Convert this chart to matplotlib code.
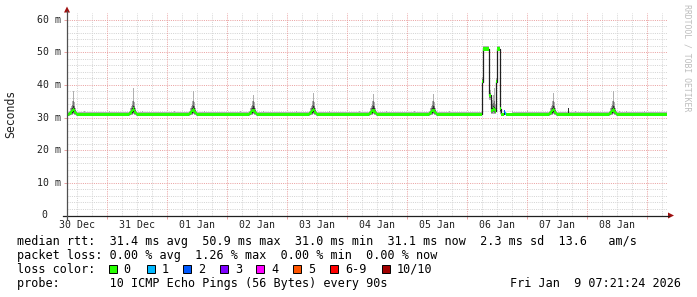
import numpy as np
import matplotlib
matplotlib.use("Agg")
import matplotlib.pyplot as plt
from matplotlib.patches import Rectangle, Polygon
from matplotlib.lines import Line2D
from matplotlib.transforms import blended_transform_factory as btf

W, H, DPI = 697, 297, 100
MONO = "DejaVu Sans Mono"

# ---------------- data ----------------
# time in days since 30 Dec 00:00
t_start, t_end = 0.33, 10.33
day_labels = ["30 Dec", "31 Dec", "01 Jan", "02 Jan", "03 Jan",
              "04 Jan", "05 Jan", "06 Jan", "07 Jan", "08 Jan"]
day_label_pos = [0.5, 1.5, 2.5, 3.5, 4.5, 5.5, 6.5, 7.5, 8.5, 9.5]
y_ticks = [0, 10, 20, 30, 40, 50, 60]
y_tick_labels = ["0", "10 m", "20 m", "30 m", "40 m", "50 m", "60 m"]

# baseline (ms): median, loss, outer lo/hi, mid lo/hi, inner lo/hi
base_row = [31.0, 0, 30.5, 31.6, 30.8, 31.2, 30.9, 31.1]

# daily ping spikes
spike_center = [0.435, 1.43, 2.43, 3.43, 4.43, 5.43, 6.43, 8.43, 9.43]
spike_top = [38.0, 38.9, 38.0, 37.0, 37.6, 37.3, 37.3, 37.6, 38.0]
spike_med = [32.4, 32.6, 32.3, 32.2, 32.4, 32.0, 32.2, 32.4, 32.3]
spike_dt = [-0.067, -0.050, -0.033, -0.017, 0.000, 0.017, 0.033, 0.050]
spike_med_prof = [31.2, 31.4, 31.7, 32.1, None, 32.0, 31.5, 31.2]
spike_ohi = [32.0, 32.8, 33.6, 35.0, None, 34.6, 33.0, 32.0]
spike_olo = [30.6, 30.7, 30.8, 30.9, 31.0, 30.9, 30.8, 30.6]
spike_mhi = [31.6, 32.0, 32.8, 33.8, 35.0, 33.6, 32.4, 31.6]
spike_mlo = [30.8, 30.9, 31.0, 31.1, 31.3, 31.1, 31.0, 30.8]
spike_ihi = [31.3, 31.6, 32.2, 32.9, 33.6, 32.8, 31.9, 31.3]
spike_ilo = [30.9, 31.1, 31.3, 31.5, 31.6, 31.4, 31.1, 30.9]

# 06 Jan latency event
ev_t    = [7.247, 7.263, 7.363, 7.397, 7.430, 7.447, 7.463, 7.480, 7.497, 7.547, 7.563, 7.613, 7.630, 7.647]
ev_med  = [41.0, 51.0, 36.8, 32.2, 32.6, 32.4, 32.0, 41.0, 51.0, 32.7, 31.0, 31.8, 31.3, 31.0]
ev_loss = [0, 0, 0, 0, 0, 0, 0, 0, 0, 0, 0, 2, 1, 0]
ev_olo  = [39.5, 50.5, 35.5, 31.0, 31.2, 31.2, 31.0, 40.0, 50.5, 31.2, 30.6, 31.0, 30.8, 30.6]
ev_ohi  = [42.5, 51.8, 38.5, 35.5, 37.0, 38.9, 34.0, 42.0, 51.8, 34.0, 31.5, 32.4, 31.8, 31.5]
ev_mlo  = [40.3, 50.7, 36.0, 31.4, 31.6, 31.5, 31.3, 40.5, 50.7, 31.6, 30.8, 31.2, 31.0, 30.8]
ev_mhi  = [41.8, 51.4, 37.5, 34.0, 34.5, 35.0, 33.0, 41.5, 51.4, 33.5, 31.2, 32.2, 31.5, 31.2]
ev_ilo  = [40.7, 50.9, 36.5, 31.8, 32.0, 31.9, 31.6, 40.8, 50.9, 32.0, 30.9, 31.4, 31.1, 30.9]
ev_ihi  = [41.3, 51.1, 37.1, 33.0, 33.5, 33.2, 32.6, 41.2, 51.1, 33.2, 31.1, 32.0, 31.4, 31.1]

# isolated dark blip on 07 Jan
blip_t, blip_ilo, blip_ihi = [8.68], [31.2], [33.0]

# light smoke fuzz above the baseline
fuzz_t = [0.62, 0.72, 1.03, 1.58, 1.75, 2.12, 2.62, 2.90, 3.22, 3.60, 3.88, 4.15,
          4.70, 4.98, 5.20, 5.65, 5.92, 6.12, 6.70, 6.95, 7.75, 8.00, 8.25,
          8.80, 9.10, 9.53, 9.65, 9.78, 9.95, 10.12]
fuzz_hi = [31.9, 31.8, 32.0, 31.9, 31.8, 31.9, 32.0, 31.8, 31.9, 32.0, 31.8, 31.9,
           31.9, 31.8, 32.0, 31.9, 31.8, 31.9, 32.0, 31.8, 31.9, 32.0, 31.8,
           31.9, 31.8, 31.9, 32.0, 31.8, 31.9, 31.8]

loss_colors = ["#26ff00", "#00b8ff", "#0059ff", "#7e00ff", "#ff00ff",
               "#ff5500", "#ff0000", "#a10000"]
loss_names = ["0", "1", "2", "3", "4", "5", "6-9", "10/10"]

legend_rtt = "median rtt:  31.4 ms avg  50.9 ms max  31.0 ms min  31.1 ms now  2.3 ms sd  13.6   am/s"
legend_loss = "packet loss: 0.00 % avg  1.26 % max  0.00 % min  0.00 % now"
legend_color = "loss color:"
legend_probe = "probe:       10 ICMP Echo Pings (56 Bytes) every 90s"
legend_date = "Fri Jan  9 07:21:24 2026"

# ---------------- build segments ----------------
PX = 1.0 / 60.0
segs = {round(t_start, 4): list(base_row)}
for t, hi in zip(fuzz_t, fuzz_hi):
    r = list(base_row); r[3] = hi
    segs[round(t, 4)] = r
    segs[round(t + PX, 4)] = list(base_row)
for c, top, pk in zip(spike_center, spike_top, spike_med):
    for k, dt in enumerate(spike_dt):
        med = pk if spike_med_prof[k] is None else spike_med_prof[k]
        ohi = top if spike_ohi[k] is None else spike_ohi[k]
        segs[round(c + dt, 4)] = [med, 0, spike_olo[k], ohi, spike_mlo[k],
                                  spike_mhi[k], spike_ilo[k], spike_ihi[k]]
    segs[round(c + spike_dt[-1] + PX, 4)] = list(base_row)
for i, t in enumerate(ev_t):
    segs[round(t, 4)] = [ev_med[i], ev_loss[i], ev_olo[i], ev_ohi[i],
                         ev_mlo[i], ev_mhi[i], ev_ilo[i], ev_ihi[i]]
for t, lo, hi in zip(blip_t, blip_ilo, blip_ihi):
    r = list(base_row); r[6] = lo; r[7] = hi
    segs[round(t, 4)] = r
    segs[round(t + PX, 4)] = list(base_row)

ts = np.array(sorted(segs))
rows = np.array([segs[k] for k in sorted(segs)], dtype=float)
widths = np.diff(np.append(ts, t_end))
med, loss = rows[:, 0], rows[:, 1].astype(int)

# ---------------- figure ----------------
fig = plt.figure(figsize=(W / DPI, H / DPI), dpi=DPI)
fig.patch.set_facecolor("white")
ax_l, ax_r, ax_b, ax_t = 67, 667, 215.5, 13.3
ax = fig.add_axes([ax_l / W, 1 - ax_b / H, (ax_r - ax_l) / W, (ax_b - ax_t) / H])
ax.set_xlim(t_start, t_end)
ax.set_ylim(0, 61.9)
for s in ax.spines.values():
    s.set_visible(False)
ax.set_facecolor("white")

# grid
minor_c, major_c = "#d4d4d4", "#eaa2a2"
dots = (0, (1, 1.2))
for y in np.arange(2, 62, 2):
    if y % 10:
        ax.axhline(y, color=minor_c, lw=0.72, ls=dots, zorder=0)
for d in np.arange(0.5, 10.5, 0.25):
    if d % 1 and t_start < d < t_end:
        ax.axvline(d, color=minor_c, lw=0.72, ls=dots, zorder=0)
for y in y_ticks[1:]:
    ax.axhline(y, color=major_c, lw=0.72, ls=dots, zorder=0.5)
for d in range(1, 11):
    if t_start < d < t_end:
        ax.axvline(d, color=major_c, lw=0.72, ls=dots, zorder=0.5)

ax.set_xticks([d for d in range(1, 11) if t_start < d < t_end])
ax.set_yticks(y_ticks)
ax.tick_params(axis="both", length=2, width=0.72, color=major_c, direction="out",
               labelbottom=False, labelleft=False)

# smoke
kw = dict(align="edge", linewidth=0, antialiased=False, zorder=2)
ax.bar(ts, rows[:, 3] - rows[:, 2], bottom=rows[:, 2], width=widths, color="#b0b0b0", **kw)
ax.bar(ts, rows[:, 5] - rows[:, 4], bottom=rows[:, 4], width=widths, color="#747474", **kw)
ax.bar(ts, rows[:, 7] - rows[:, 6], bottom=rows[:, 6], width=widths, color="#303030", **kw)

# median line
ax.step(np.append(ts, t_end), np.append(med, med[-1]), where="post",
        color="#202020", lw=0.9, zorder=3)
# loss-coloured band
band = 0.5
ax.bar(ts, 2 * band, bottom=med - band, width=widths,
       color=[loss_colors[l] for l in loss], **dict(kw, zorder=4))

# ---------------- axes decorations ----------------
def fx(x):
    return x / W

def fy(y):
    return 1 - y / H

axis_c = "#202020"
arrow_c = "#a01010"
fig.add_artist(Line2D([fx(63), fx(669)], [fy(215.5), fy(215.5)], color=axis_c, lw=0.9))
fig.add_artist(Line2D([fx(67), fx(67)], [fy(219), fy(11)], color="#505050", lw=0.9))
fig.add_artist(Polygon([[fx(668), fy(212.5)], [fx(668), fy(218.5)], [fx(674), fy(215.5)]],
                       closed=True, color=arrow_c, lw=0))
fig.add_artist(Polygon([[fx(64), fy(12.5)], [fx(70), fy(12.5)], [fx(67), fy(6.5)]],
                       closed=True, color=arrow_c, lw=0))

# tick labels
tr_y = btf(fig.transFigure, ax.transData)
for v, lab in zip(y_ticks, y_tick_labels):
    xr = 60.5 if lab != "0" else 47.5
    ax.text(fx(xr), v, lab, transform=tr_y, ha="right", va="center",
            fontsize=7.1, family=MONO, color="#202020")
tr_x = btf(ax.transData, fig.transFigure)
for d, lab in zip(day_label_pos, day_labels):
    ax.text(d, fy(227.5), lab, transform=tr_x, ha="center", va="baseline",
            fontsize=7.1, family=MONO, color="#202020")

fig.text(fx(10.5), fy(113.5), "Seconds", rotation=90, ha="center", va="center",
         fontsize=8.3, family=MONO, color="#202020")
fig.text(fx(687.5), fy(4), "RRDTOOL / TOBI OETIKER", rotation=270, ha="center",
         va="top", fontsize=5.9, family=MONO, color="#bdbdbd")

# ---------------- legend ----------------
FS = 8.5
LX = 16.7
for yb, s in [(245, legend_rtt), (259.5, legend_loss), (273, legend_color),
              (287, legend_probe)]:
    fig.text(fx(LX), fy(yb), s, ha="left", va="baseline", fontsize=FS,
             family=MONO, color="#000000")
fig.text(fx(680.5), fy(287), legend_date, ha="right", va="baseline", fontsize=FS,
         family=MONO, color="#000000")

box_x = [109, 146.7, 183, 220, 256, 293, 330, 381.7]
lab_x = [123, 161.7, 198, 235, 271, 308, 345, 396.7]
for bx, lx, c, n in zip(box_x, lab_x, loss_colors, loss_names):
    fig.add_artist(Rectangle((fx(bx), fy(273.3)), 8 / W, 8 / H, facecolor=c,
                             edgecolor="#000000", lw=0.7))
    fig.text(fx(lx), fy(273), n, ha="left", va="baseline", fontsize=FS,
             family=MONO, color="#000000")

fig.savefig("out.png", dpi=DPI, facecolor="white")
